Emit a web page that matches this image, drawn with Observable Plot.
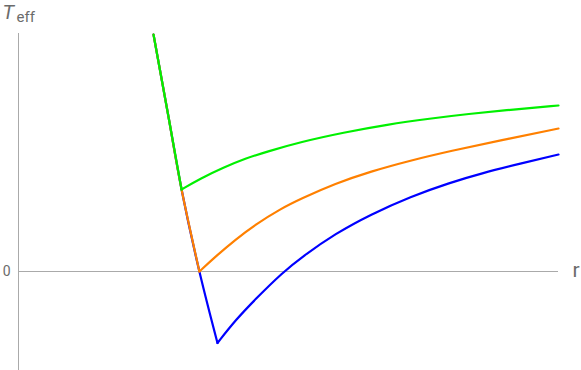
<!DOCTYPE html>
<html>
<head>
<meta charset="utf-8">
<script src="https://cdn.jsdelivr.net/npm/d3@7"></script>
<script src="https://cdn.jsdelivr.net/npm/@observablehq/plot@0.6"></script>
<style>
  html, body { margin: 0; padding: 0; background: #fff; }
  #chart svg { display: block; }
</style>
</head>
<body>
<div id="chart"></div>
<script>
// Steep shared branch (r, T)
const steepR = [2.50, 2.79, 3.02, 3.35, 3.685];
const steepT = [2.37, 1.51, 0.82, 0.00, -0.715];

// Right branches
const greenR  = [3.02, 3.37, 3.80, 4.20, 4.61, 5.22, 6.02, 6.83, 7.63, 8.31, 9.17, 10.0];
const greenT  = [0.82, 0.93, 1.04, 1.13, 1.20, 1.295, 1.39, 1.47, 1.53, 1.575, 1.62, 1.66];
const orangeR = [3.35, 3.65, 4.02, 4.39, 4.85, 5.22, 5.87, 6.52, 7.26, 8.00, 8.93, 10.0];
const orangeT = [0.00, 0.15, 0.32, 0.47, 0.625, 0.725, 0.88, 1.00, 1.11, 1.205, 1.312, 1.43];
const blueR   = [3.685, 4.02, 4.39, 4.89, 5.26, 5.87, 6.52, 7.26, 8.00, 8.56, 9.30, 10.0];
const blueT   = [-0.715, -0.485, -0.275, -0.01, 0.15, 0.38, 0.57, 0.75, 0.89, 0.98, 1.08, 1.17];

// kink indices into steep arrays
const kinks = { green: 2, orange: 3, blue: 4 };
const colors = { green: "#00f000", orange: "#ff8000", blue: "#0000ff" };

const steepPts = (n) => steepR.slice(0, n + 1).map((r, i) => ({ r, T: steepT[i] }));
const pts = (R, T) => R.map((r, i) => ({ r, T: T[i] }));

const axisColor = "#aaaaaa";
const textColor = "#6b6b6b";
const font = "Roboto, 'Liberation Sans', sans-serif";
const lw = 2.2;

const chart = Plot.plot({
  width: 581,
  height: 370,
  marginLeft: 18,
  marginRight: 23,
  marginTop: 0,
  marginBottom: 0,
  style: { fontFamily: font, background: "#fff" },
  x: { domain: [0, 10], axis: null },
  y: { domain: [-0.99, 2.71], axis: null },
  marks: [
    Plot.ruleX([0], { y1: -0.99, y2: 2.38, stroke: axisColor, strokeWidth: 1 }),
    Plot.ruleY([0], { x1: 0, x2: 10, stroke: axisColor, strokeWidth: 1 }),
    Plot.text([0], { x: 0, y: d => d, text: d => String(d), dx: -8, textAnchor: "end", fill: textColor, fontSize: 14 }),
    Plot.text(["r"], { x: 10, y: 0, text: d => d, dx: 14, dy: -1, textAnchor: "start", fill: textColor, fontSize: 21 }),
    Plot.text(["T"], { frameAnchor: "top-left", dx: -16, dy: 4, text: d => d, fill: textColor, fontSize: 20, fontStyle: "italic", textAnchor: "start", lineAnchor: "top" }),
    Plot.text(["eff"], { frameAnchor: "top-left", dx: -2, dy: 11, text: d => d, fill: textColor, fontSize: 15, textAnchor: "start", lineAnchor: "top" }),
    // blue
    Plot.line(steepPts(kinks.blue), { x: "r", y: "T", stroke: colors.blue, strokeWidth: lw, curve: "natural" }),
    Plot.line(pts(blueR, blueT), { x: "r", y: "T", stroke: colors.blue, strokeWidth: lw, curve: "basis" }),
    // orange
    Plot.line(steepPts(kinks.orange), { x: "r", y: "T", stroke: colors.orange, strokeWidth: lw, curve: "natural" }),
    Plot.line(pts(orangeR, orangeT), { x: "r", y: "T", stroke: colors.orange, strokeWidth: lw, curve: "basis" }),
    // green
    Plot.line(steepPts(kinks.green), { x: "r", y: "T", stroke: colors.green, strokeWidth: lw, curve: "natural" }),
    Plot.line(pts(greenR, greenT), { x: "r", y: "T", stroke: colors.green, strokeWidth: lw, curve: "basis" })
  ]
});
document.getElementById("chart").appendChild(chart);
</script>
</body>
</html>
